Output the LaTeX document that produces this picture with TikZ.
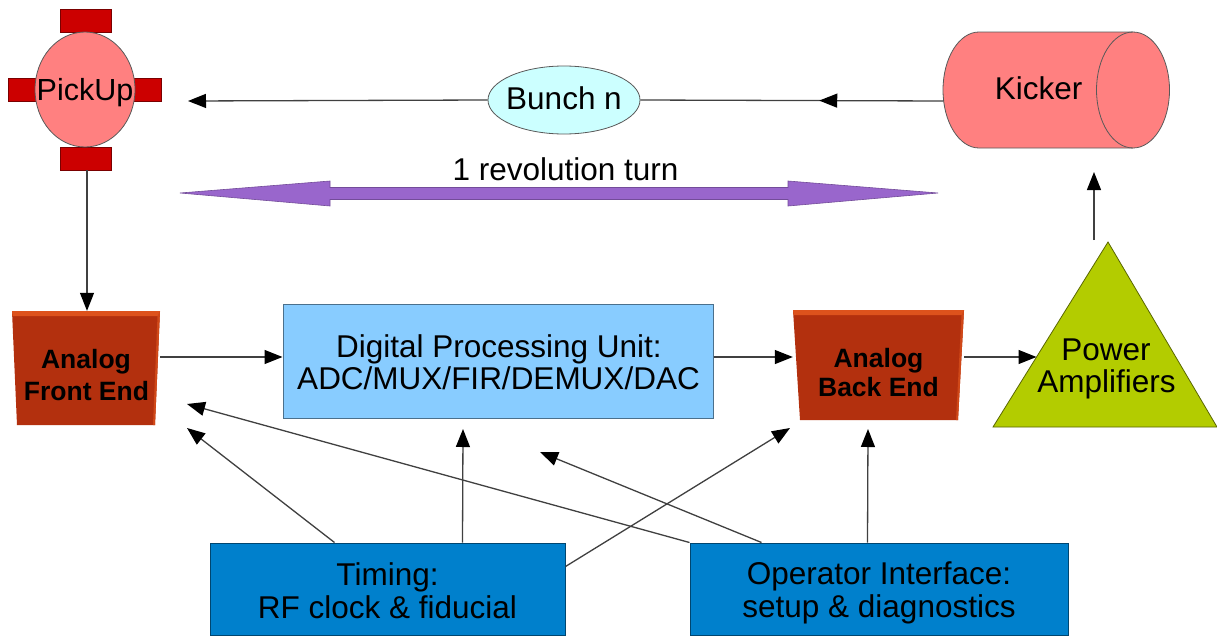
\documentclass[tikz,border=0pt]{standalone}
\usepackage{fontspec}
\setmainfont{Liberation Sans}
\usetikzlibrary{arrows.meta,calc,shapes.geometric,decorations.markings}
\definecolor{pkbody}{HTML}{FF8080}
\definecolor{pkrect}{HTML}{CC0000}
\definecolor{bunchc}{HTML}{CCFFFF}
\definecolor{purp}{HTML}{9966CC}
\definecolor{analog}{HTML}{B3300E}
\definecolor{analogtop}{HTML}{DD521C}
\definecolor{dpuc}{HTML}{88CCFF}
\definecolor{botc}{HTML}{0080CC}
\definecolor{pac}{HTML}{B3CC00}
\definecolor{linec}{HTML}{404040}
\begin{document}
\begin{tikzpicture}[x=1pt,y=-1pt,
  conn/.style={draw=linec, line width=1.3pt, -{Triangle[length=18pt,width=14pt,color=black]}},
  plain/.style={draw=linec, line width=1.3pt},
  txt/.style={font=\fontsize{31.5}{36}\selectfont, inner sep=0, anchor=base},
  btxt/.style={font=\fontsize{26.5}{28}\selectfont\bfseries, inner sep=0, anchor=base},
  frame/.style={rectangle, inner sep=0},
  boxstyle/.style={rectangle, inner sep=0, line width=1pt},
  midarrow/.style={postaction={decorate}, decoration={markings, mark=at position #1 with {\arrow{Triangle[length=18pt,width=14pt,color=black]}}}}
]
\useasboundingbox (0,0) rectangle (1217,637);
\fill[white] (0,0) rectangle (1217,637);

% ---------- PickUp ----------
\node (pkt) [frame, draw=pkrect!60!black, fill=pkrect, line width=0.8pt, minimum width=51pt, minimum height=23pt] at (85.5,20.5) {};
\node (pkb) [frame, draw=pkrect!60!black, fill=pkrect, line width=0.8pt, minimum width=51pt, minimum height=23pt] at (85.5,158.5) {};
\node (pkl) [frame, draw=pkrect!60!black, fill=pkrect, line width=0.8pt, minimum width=29pt, minimum height=23pt] at (22.5,89.5) {};
\node (pkr) [frame, draw=pkrect!60!black, fill=pkrect, line width=0.8pt, minimum width=28pt, minimum height=23pt] at (147,89.5) {};
\node (pickup) [ellipse, draw=black!65, fill=pkbody, line width=0.8pt, inner sep=0, minimum width=100pt, minimum height=115pt] at (85,89.5) {};
\node (pickupt) [txt, font=\fontsize{30.5}{36}\selectfont] at (85,100) {PickUp};

% ---------- Bunch ----------
\node (bunch) [ellipse, draw=black!65, fill=bunchc, line width=0.8pt, inner sep=0, minimum width=152pt, minimum height=68pt] at (564,100) {};
\node (buncht) [txt] at (564,109) {Bunch n};

% ---------- Kicker (cylinder) ----------
\path[draw=black!65, fill=pkbody, line width=0.8pt]
  (979,32) -- (1133,32) arc[start angle=-90, end angle=90, x radius=36.5, y radius=58]
  -- (979,148) arc[start angle=90, end angle=270, x radius=36, y radius=58] -- cycle;
\draw[black!65, line width=0.8pt] (1133,32) arc[start angle=270, end angle=90, x radius=36.5, y radius=58];
\node (kicker) [txt] at (1038.5,99) {Kicker};
\coordinate (kout) at (943.5,101);

% ---------- revolution arrow ----------
\path[fill=purp, draw=purp!75!black, line width=0.6pt]
  (180,193) -- (330,181) -- (330,187.5) -- (788,187.5) -- (788,181) -- (938,193)
  -- (788,206) -- (788,199.5) -- (330,199.5) -- (330,206) -- cycle;
\node (rev) [txt] at (565.5,180) {1 revolution turn};

% ---------- Analog Front End ----------
\path[fill=analog] (12,311) -- (160,311) -- (155,425) -- (17,425) -- cycle;
\path[fill=analogtop] (12,311) -- (160,311) -- (159.5,316) -- (12.5,316) -- cycle;
\path[fill=analogtop!70!analog] (160,311) -- (155,425) -- (153,425) -- (157.5,316) -- cycle;
\node (afe) [frame, minimum width=148pt, minimum height=114pt] at (86,368) {};
\node (afe1) [btxt] at (86,368) {Analog};
\node (afe2) [btxt] at (86.5,400) {Front End};

% ---------- Digital Processing Unit ----------
\node (dpu) [boxstyle, draw=dpuc!55!black, fill=dpuc, minimum width=430pt, minimum height=114pt] at (498,361) {};
\node (dpu1) [txt] at (499,357) {Digital Processing Unit:};
\node (dpu2) [txt] at (498.5,389) {ADC/MUX/FIR/DEMUX/DAC};

% ---------- Analog Back End ----------
\path[fill=analog] (793,310) -- (964,310) -- (958,420) -- (800,420) -- cycle;
\path[fill=analogtop] (793,310) -- (964,310) -- (963.5,315) -- (793.5,315) -- cycle;
\path[fill=analogtop!70!analog] (964,310) -- (958,420) -- (956,420) -- (961.5,315) -- cycle;
\node (abe) [frame, minimum width=171pt, minimum height=110pt] at (878.5,365) {};
\node (abe1) [btxt] at (878.5,367) {Analog};
\node (abe2) [btxt] at (878.5,396) {Back End};

% ---------- Power Amplifiers ----------
\path[fill=pac, draw=pac!50!black, line width=0.8pt] (1108,242) -- (1217,427) -- (993,427) -- cycle;
\node (pa1) [txt] at (1106,360) {Power};
\node (pa2) [txt] at (1106.5,392) {Amplifiers};
\coordinate (pain) at (1036.5,357);
\coordinate (paout) at (1094,240);
\coordinate (kin) at (1094,172);

% ---------- bottom boxes ----------
\node (timing) [boxstyle, draw=botc!55!black, fill=botc, minimum width=355pt, minimum height=92pt] at (387.5,589) {};
\node (timing1) [txt] at (387.5,585) {Timing:};
\node (timing2) [txt] at (387.5,618) {RF clock \& fiducial};
\node (oper) [boxstyle, draw=botc!55!black, fill=botc, minimum width=378pt, minimum height=92pt] at (879,589) {};
\node (oper1) [txt] at (879,584) {Operator Interface:};
\node (oper2) [txt] at (879,617) {setup \& diagnostics};

% ---------- connector free ends ----------
\coordinate (pkin) at (188,101);
\coordinate (e1) at (187,428);
\coordinate (e2) at (463,429);
\coordinate (e3) at (790,428);
\coordinate (e4) at (187,404);
\coordinate (e5) at (540,452);
\coordinate (e6) at (868,429);
\coordinate (afeo) at ([yshift=11pt]afe.east);
\coordinate (dpuo) at ([yshift=4pt]dpu.east);
\coordinate (abeo) at ([yshift=8pt]abe.east);

% ---------- connectors ----------
\draw[conn] (bunch.west) -- (pkin);
\draw[plain, midarrow=0.41] (kout) -- (bunch.east);
\draw[conn] ([xshift=1.5pt]pkb.south) -- ([xshift=1.5pt]pkb.south |- afe.north);
\draw[conn] (afeo) -- (afeo -| dpu.west);
\draw[conn] (dpuo) -- (dpuo -| abe.west);
\draw[conn] (abeo) -- (pain);
\draw[conn] (paout) -- (kin);

\draw[conn] ([xshift=125pt]timing.north west) -- (e1);
\draw[conn] ([xshift=253pt]timing.north west) -- (e2);
\draw[conn] ([yshift=-24pt]timing.north east) -- (e3);
\draw[conn] (oper.north west) -- (e4);
\draw[conn] ([xshift=72pt]oper.north west) -- (e5);
\draw[conn] ([xshift=178pt]oper.north west) -- (e6);
\end{tikzpicture}
\end{document}
